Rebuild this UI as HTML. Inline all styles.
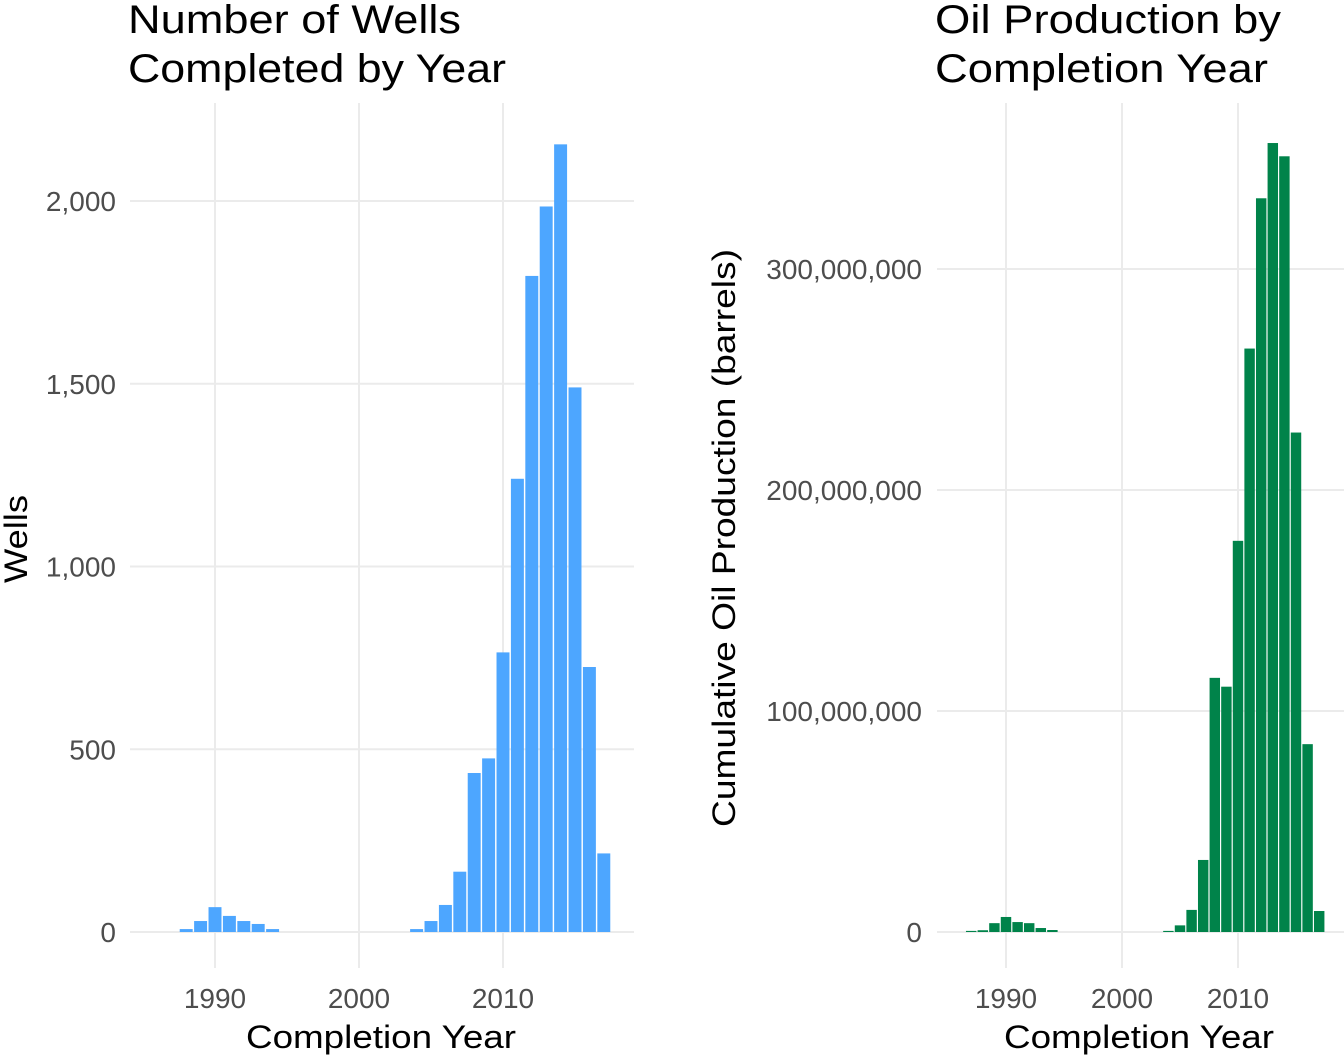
<!DOCTYPE html>
<html><head><meta charset="utf-8"><style>
html,body{margin:0;padding:0;background:#fff;}
svg text{font-family:"Liberation Sans",sans-serif;}
</style></head><body>
<svg id="c" width="1344" height="1056" xmlns="http://www.w3.org/2000/svg"></svg>
<script>
const years = [1987,1988,1989,1990,1991,1992,1993,1994,2004,2005,2006,2007,2008,2009,2010,2011,2012,2013,2014,2015,2016,2017];
const wells = [0,8,30,68,44,30,22,8,8,30,74,165,435,475,765,1240,1795,1985,2155,1490,725,215];
const oilM = [0.5,0.8,4,6.8,4.5,4,1.8,0.9,0.5,3,10,32.6,115,111,177,264,332,357,351,226,85,9.5];
const leftTicks = [0,500,1000,1500,2000];
const leftTickLabels = ["0","500","1,000","1,500","2,000"];
const rightTicks = [0,100,200,300];
const rightTickLabels = ["0","100,000,000","200,000,000","300,000,000"];
const xTicks = [1990,2000,2010];

const svg = document.getElementById('c');
const NS = 'http://www.w3.org/2000/svg';
function mk(tag, attrs, parent){const e=document.createElementNS(NS,tag);for(const k in attrs)e.setAttribute(k,attrs[k]);(parent||svg).appendChild(e);return e;}

function panel(o){
  const g = mk('g',{});
  
  
  const xs = y => o.x0 + (y-1990)*o.pxYear;
  const ys = v => 932 - v*o.pxVal;
  o.yTicks.forEach((t,i)=>{
    const gl = mk('line',{x1:o.left,x2:o.right,y1:ys(t),y2:ys(t),stroke:'#ebebeb','stroke-width':2},g);
    
    
    const tl = mk('text',{x:o.labelX,y:ys(t)+10,'text-anchor':'end','font-size':28,fill:'#4d4d4d'},g);
    tl.textContent = o.yLabels[i];
    
    
  });
  xTicks.forEach(t=>{
    const gl = mk('line',{x1:xs(t),x2:xs(t),y1:o.top,y2:968,stroke:'#ebebeb','stroke-width':2},g);
    
    
    const tl = mk('text',{x:xs(t),y:1008,'text-anchor':'middle','font-size':28,fill:'#4d4d4d'},g);
    tl.textContent = t;
    
    
  });
  const bw = o.pxYear*0.9;
  years.forEach((y,i)=>{
    const v = o.vals[i];
    const r = mk('rect',{x:xs(y)-bw/2,y:ys(v),width:bw,height:v*o.pxVal,fill:o.color},g);
    
    
  });
  o.title.forEach((t,i)=>{
    const tt = mk('text',{x:o.left-2,y:33+i*49,'font-size':40,fill:'#000',textLength:o.titleW[i],lengthAdjust:'spacingAndGlyphs'},g);
    tt.textContent = t;
    
    
  });
  const xt = mk('text',{x:o.xTitleX,y:1048,'text-anchor':'middle','font-size':32,fill:'#000',textLength:o.xTitleW,lengthAdjust:'spacingAndGlyphs'},g);
  xt.textContent = 'Completion Year';
  
  
  const yt = mk('text',{x:0,y:0,'text-anchor':'middle','font-size':32,fill:'#000',transform:`translate(${o.yTitleX},${o.yTitleY}) rotate(-90)`,textLength:o.yTitleW,lengthAdjust:'spacingAndGlyphs'},g);
  yt.textContent = o.yTitle;
  
  
}

panel({name:'wells-panel',x0:215,pxYear:14.4,pxVal:0.3655,left:130,right:634,top:103,labelX:116,
  yTicks:leftTicks,yLabels:leftTickLabels,vals:wells,color:'#4da6ff',
  title:['Number of Wells','Completed by Year'],titleW:[333,378],xTitleX:381,xTitleW:270,
  yTitle:'Wells',yTitleX:27,yTitleY:539,yTitleW:88});
panel({name:'oil-panel',x0:1006,pxYear:11.6,pxVal:2.21,left:937,right:1344,top:103,labelX:922,
  yTicks:rightTicks,yLabels:rightTickLabels,vals:oilM,color:'#00834a',
  title:['Oil Production by','Completion Year'],titleW:[346,333],xTitleX:1139,xTitleW:270,
  yTitle:'Cumulative Oil Production (barrels)',yTitleX:735,yTitleY:538,yTitleW:578});
</script>
</body></html>
